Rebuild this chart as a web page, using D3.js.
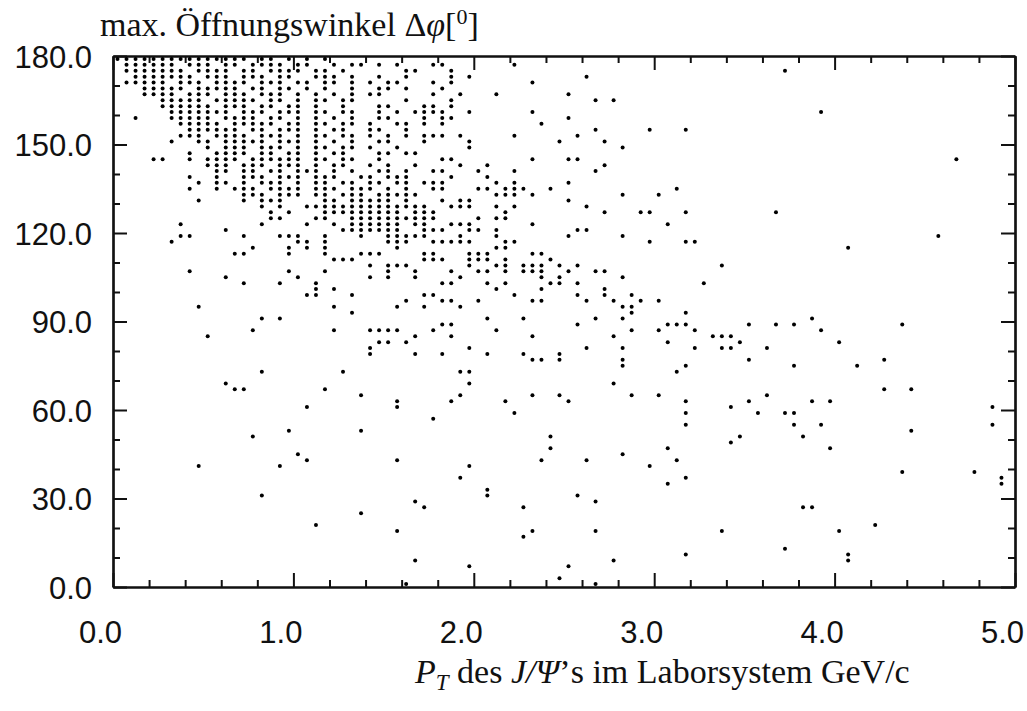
<!DOCTYPE html>
<html>
<head>
<meta charset="utf-8">
<script src="https://cdn.jsdelivr.net/npm/d3@7"></script>
<style>
  body { margin: 0; background: #fff; }
  .lbl { font-family: "Liberation Sans", sans-serif; font-size: 31px; fill: #111; }
  .ttl { font-family: "Liberation Serif", serif; font-size: 34px; fill: #111; }
</style>
</head>
<body>
<script>
// binned events, one row per angle bin: [max. opening angle (deg), [pT values (GeV/c)]]
const rowsTop = [
  [179, [.025,.075,.125,.175,.225,.275,.325,.375,.425,.475,.525,.575,.625,.675,.725,.825,.875,.975,1.075,1.175]],
  [177, [.075,.125,.175,.225,.275,.325,.425,.475,.525,.625,.675,.775,.825,.875,.925,1.025,1.075,1.225,1.325,1.375,1.475,1.575,1.775,1.825,2.225]],
  [175, [.075,.125,.175,.225,.275,.325,.375,.475,.525,.575,.625,.725,.775,.875,.925,.975,1.025,1.125,1.175,1.275,1.625,1.675,1.875,3.725]],
  [173, [.125,.175,.225,.275,.325,.375,.425,.525,.575,.625,.725,.775,.825,.925,.975,1.125,1.175,1.225,1.325,1.475,1.625,1.875,1.975,2.625]],
  [171, [.075,.125,.175,.225,.275,.375,.425,.475,.575,.625,.675,.725,.825,.875,.925,1.025,1.075,1.175,1.225,1.325,1.425,1.525,1.575,1.775,1.875,2.325]],
  [169, [.175,.225,.275,.325,.375,.475,.525,.575,.625,.675,.775,.825,.925,.975,1.075,1.175,1.325,1.475,1.525,1.625,1.825]],
  [167, [.175,.225,.275,.325,.425,.475,.525,.625,.675,.725,.825,.875,.925,1.025,1.125,1.225,1.325,1.425,1.475,1.775,1.925,2.125,2.525]],
  [165, [.275,.325,.375,.425,.475,.575,.625,.675,.725,.775,.875,.925,1.025,1.125,1.175,1.275,1.325,1.625,1.875,2.675,2.775]],
  [163, [.275,.325,.375,.425,.475,.525,.625,.675,.725,.825,.875,.975,1.025,1.125,1.275,1.475,1.525,1.725,1.775,1.875]],
  [161, [.325,.375,.425,.475,.525,.575,.625,.725,.775,.825,.925,.975,1.025,1.125,1.175,1.275,1.325,1.475,1.575,1.675,1.725,1.775,1.825,1.975,2.325,3.925]],
  [159, [.125,.325,.375,.425,.475,.525,.625,.675,.725,.775,.875,.925,1.025,1.125,1.225,1.325,1.475,1.525,1.725,1.825,1.875,2.525]],
  [157, [.375,.425,.475,.525,.575,.675,.725,.775,.825,.875,.975,1.025,1.125,1.175,1.275,1.325,1.425,1.575,1.625,1.725,1.825,2.375]],
  [155, [.425,.475,.525,.575,.625,.675,.775,.825,.925,.975,1.025,1.125,1.225,1.275,1.425,1.475,1.625,2.675,2.975,3.175]],
  [153, [.375,.425,.475,.575,.625,.675,.725,.825,.875,.925,1.025,1.125,1.175,1.275,1.325,1.425,1.525,1.625,1.725,1.775,1.825,1.925,2.225,2.575]],
  [151, [.325,.475,.525,.625,.675,.725,.775,.825,.925,.975,1.025,1.125,1.225,1.325,1.475,1.525,1.725,1.975,2.475,2.725]],
  [149, [.525,.625,.675,.725,.825,.875,.925,1.025,1.125,1.175,1.275,1.325,1.425,1.575,1.975,2.825]],
  [147, [.425,.575,.625,.675,.725,.825,.875,.975,1.025,1.125,1.225,1.275,1.475,1.525,1.625,1.675]],
  [145, [.225,.275,.425,.525,.575,.625,.675,.775,.825,.875,.925,.975,1.025,1.125,1.175,1.275,1.325,1.475,1.825,1.875,2.325,2.525,2.575,4.675]],
  [143, [.525,.575,.625,.725,.775,.825,.925,.975,1.025,1.125,1.225,1.275,1.425,1.525,1.675,1.925,2.075,2.725]],
  [141, [.575,.625,.725,.775,.875,.925,1.025,1.075,1.125,1.225,1.325,1.475,1.525,1.625,1.775,1.825,2.025,2.225,2.675]],
  [139, [.425,.575,.725,.775,.825,.925,.975,1.025,1.125,1.175,1.225,1.375,1.425,1.525,1.575,1.625,1.875,2.075]],
  [137, [.475,.575,.625,.725,.825,.875,.925,1.025,1.125,1.175,1.275,1.325,1.425,1.475,1.575,1.625,1.725,1.775,1.825,2.125,2.225,2.525]],
  [135, [.425,.575,.675,.725,.775,.875,.925,.975,1.025,1.125,1.175,1.225,1.325,1.375,1.425,1.525,1.625,1.775,1.825,2.025,2.075,2.175,2.225,2.275,2.425,3.125]],
  [133, [.725,.775,.825,.925,.975,1.025,1.125,1.175,1.275,1.325,1.375,1.475,1.525,1.575,1.625,1.675,2.125,2.175,2.225,2.325,2.825,3.025]]
];

const rowsMid = [
  [131, [.475,.725,.825,.875,.925,1.175,1.225,1.325,1.375,1.425,1.475,1.525,1.625,1.825,1.925,1.975,2.525]],
  [129, [.825,.925,1.075,1.125,1.175,1.225,1.275,1.325,1.375,1.425,1.475,1.525,1.575,1.625,1.675,1.725,1.875,1.925,1.975,2.125,2.225,2.625]],
  [127, [.875,.975,1.175,1.225,1.275,1.325,1.375,1.425,1.475,1.525,1.575,1.675,1.725,1.775,2.175,2.725,2.925,2.975,3.175,3.675]],
  [125, [.875,.925,1.125,1.175,1.325,1.375,1.425,1.475,1.525,1.575,1.625,1.675,1.725,1.775,2.025,2.125,2.175]],
  [123, [.375,.825,1.075,1.225,1.325,1.375,1.425,1.475,1.525,1.575,1.675,1.725,1.875,1.925,1.975,2.325,3.075]],
  [121, [.625,1.275,1.325,1.375,1.425,1.475,1.525,1.575,1.725,1.775,1.825,1.975,2.025,2.125,2.575,2.625]],
  [119, [.375,.425,.725,.925,.975,1.025,1.175,1.375,1.525,1.575,1.625,1.675,1.725,1.925,2.125,2.525,2.825,4.575]],
  [117, [.325,1.025,1.075,1.175,1.525,1.575,1.625,1.775,1.825,1.875,1.925,1.975,2.175,2.225,2.975,3.175,3.225]],
  [115, [.775,.975,1.075,1.175,1.575,2.125,2.175,4.075]],
  [113, [.675,.725,.975,1.175,1.375,1.425,1.475,1.725,1.775,1.975,2.025,2.075,2.325,2.375]],
  [111, [1.225,1.275,1.325,1.725,1.775,1.825,1.975,2.025,2.075,2.175,2.425]],
  [109, [1.425,1.525,1.575,1.625,1.975,2.125,2.175,2.275,2.325,2.375,2.475,2.575,3.375]],
  [107, [.425,.975,1.175,1.525,1.675,1.875,2.025,2.075,2.175,2.275,2.325,2.375,2.525,2.675,2.725]],
  [105, [.625,1.025,1.425,1.525,1.675,1.925,2.375,2.475,2.825]],
  [103, [.725,.925,1.125,1.825,1.875,2.075,2.175,2.425,2.475,2.575,3.275]],
  [101, [1.125,1.225,2.125,2.375,2.725]],
  [99,  [1.075,1.125,1.325,1.725,1.775,2.225,2.575,2.725,2.875]],
  [97,  [1.625,1.825,1.875,2.025,2.325,2.375,2.625,2.775,2.925,3.025]],
  [95,  [.475,1.225,1.575,1.725,1.925,2.825,2.875]],
  [93,  [1.325,2.875,3.175]],
  [91,  [.825,.925,2.075,2.275,2.675,2.825,3.875]],
  [89,  [1.825,1.875,2.575,3.075,3.125,3.175,3.525,3.675,3.775,4.375]],
  [87,  [.775,1.225,1.425,1.475,1.525,1.575,1.775,2.125,2.875,3.025,3.225,3.925]],
  [85,  [.525,1.675,1.875,2.325,2.775,3.325,3.375,3.425]],
  [83,  [1.475,1.525,1.625,3.075,3.475,4.025]],
  [81,  [1.425,1.975,2.625,2.825,3.225,3.375,3.425,3.625]],
  [79,  [1.425,1.675,1.825,2.075,2.275,2.475]],
  [77,  [2.325,2.375,2.475,2.825,3.525,4.275]],
  [75,  [2.825,3.175,3.775,4.125]],
  [73,  [.825,1.275,1.925,1.975,3.125]],
  [69,  [.625,1.975,2.775]],
  [67,  [.675,.725,1.175,4.275,4.425]],
  [65,  [1.375,1.925,2.325,2.475,2.875,3.025,3.625]]
];

const rowsLow = [
  [63, [1.575,1.875,2.175,2.525,3.175,3.525,3.875,3.975]],
  [61, [1.075,1.575,3.425,4.875]],
  [59, [2.225,3.175,3.575,3.725,3.775]],
  [57, [1.775]],
  [55, [3.175,3.775,3.925,4.875]],
  [53, [.975,1.375,4.425]],
  [51, [.775,2.425,3.475,3.825]],
  [49, [3.425]],
  [47, [2.425,3.075,3.975]],
  [45, [1.025,2.825]],
  [43, [1.075,1.575,2.375,2.625,3.125]],
  [41, [.475,.925,1.975,2.975]],
  [39, [4.375,4.775]],
  [37, [1.925,3.175,4.925]],
  [35, [3.075,4.925]],
  [33, [2.075]],
  [31, [.825,2.075,2.575]],
  [29, [1.675,2.675]],
  [27, [1.725,2.275,3.825,3.875]],
  [25, [1.375]],
  [21, [1.125,4.225]],
  [19, [1.575,2.325,2.675,3.375,4.025]],
  [17, [2.275]],
  [13, [3.725]],
  [11, [3.175,4.075]],
  [9,  [1.675,2.775,4.075]],
  [7,  [1.975,2.525]],
  [3,  [2.475]],
  [1,  [1.625,2.675]]
];

const xMajor = [0, 1, 2, 3, 4, 5];
const yMajor = [0, 30, 60, 90, 120, 150, 180];

const width = 1027, height = 711;

const svg = d3.select("body").append("svg")
    .attr("width", width)
    .attr("height", height);

// Set the ranges
const x = d3.scaleLinear().domain([0, 5]).range([113, 1015]);
const y = d3.scaleLinear().domain([0, 180]).range([587, 56]);

const xMinor = d3.range(0, 5.001, 0.2).filter(v => Math.abs(v - Math.round(v)) > 1e-6);
const yMinor = d3.range(0, 180.1, 10).filter(v => v % 30 !== 0);

const styleAxis = g => {
  g.selectAll("path, line").attr("stroke", "#111").attr("stroke-width", 2);
  g.select(".domain").attr("stroke-width", 2.2);
};

// minor ticks on all four sides
svg.append("g").attr("transform", `translate(0,${y(0)})`)
    .call(d3.axisBottom(x).tickValues(xMinor).tickSize(-7).tickSizeOuter(0).tickFormat(""))
    .call(styleAxis);
svg.append("g").attr("transform", `translate(0,${y(180)})`)
    .call(d3.axisTop(x).tickValues(xMinor).tickSize(-7).tickSizeOuter(0).tickFormat(""))
    .call(styleAxis);
svg.append("g").attr("transform", `translate(${x(0)},0)`)
    .call(d3.axisLeft(y).tickValues(yMinor).tickSize(-7).tickSizeOuter(0).tickFormat(""))
    .call(styleAxis);
svg.append("g").attr("transform", `translate(${x(5)},0)`)
    .call(d3.axisRight(y).tickValues(yMinor).tickSize(-7).tickSizeOuter(0).tickFormat(""))
    .call(styleAxis);

// major ticks + labels
const xAxis = svg.append("g").attr("transform", `translate(0,${y(0)})`)
    .call(d3.axisBottom(x).tickValues(xMajor).tickSize(-14).tickSizeOuter(0).tickFormat(d3.format(".1f")))
    .call(styleAxis);
xAxis.selectAll("text")
    .attr("class", "lbl")
    .attr("font-family", null).attr("font-size", null)
    .attr("y", 45).attr("dy", "0.36em").attr("dx", -13);

svg.append("g").attr("transform", `translate(0,${y(180)})`)
    .call(d3.axisTop(x).tickValues(xMajor).tickSize(-14).tickSizeOuter(0).tickFormat(""))
    .call(styleAxis);

const yAxis = svg.append("g").attr("transform", `translate(${x(0)},0)`)
    .call(d3.axisLeft(y).tickValues(yMajor).tickSize(-14).tickSizeOuter(0).tickFormat(d3.format(".1f")))
    .call(styleAxis);
yAxis.selectAll("text")
    .attr("class", "lbl")
    .attr("font-family", null).attr("font-size", null)
    .attr("x", -21).attr("dy", "0.36em");

svg.append("g").attr("transform", `translate(${x(5)},0)`)
    .call(d3.axisRight(y).tickValues(yMajor).tickSize(-14).tickSizeOuter(0).tickFormat(""))
    .call(styleAxis);

// the events
const points = [].concat(rowsTop, rowsMid, rowsLow)
    .flatMap(([phi, pts]) => pts.map(pt => ({pt: pt, phi: phi})));

svg.append("g").selectAll("circle")
    .data(points)
    .enter()
    .append("circle")
    .attr("cx", d => x(d.pt))
    .attr("cy", d => y(d.phi))
    .attr("r", 2)
    .style("fill", "#000");

// y title
const yt = svg.append("text").attr("class", "ttl").attr("x", 100).attr("y", 36);
yt.append("tspan").text("max. Öffnungswinkel Δ");
yt.append("tspan").style("font-style", "italic").text("φ");
yt.append("tspan").text("[");
yt.append("tspan").attr("font-size", 22).attr("dy", -12).text("0");
yt.append("tspan").attr("dy", 12).text("]");

// x title
const xt = svg.append("text").attr("class", "ttl").attr("x", 415).attr("y", 683);
xt.append("tspan").style("font-style", "italic").text("P");
xt.append("tspan").attr("font-size", 23).attr("dy", 7).style("font-style", "italic").text("T");
xt.append("tspan").attr("dy", -7).text(" des ");
xt.append("tspan").style("font-style", "italic").text("J/Ψ");
xt.append("tspan").text("’s im Laborsystem GeV/c");
</script>
</body>
</html>
